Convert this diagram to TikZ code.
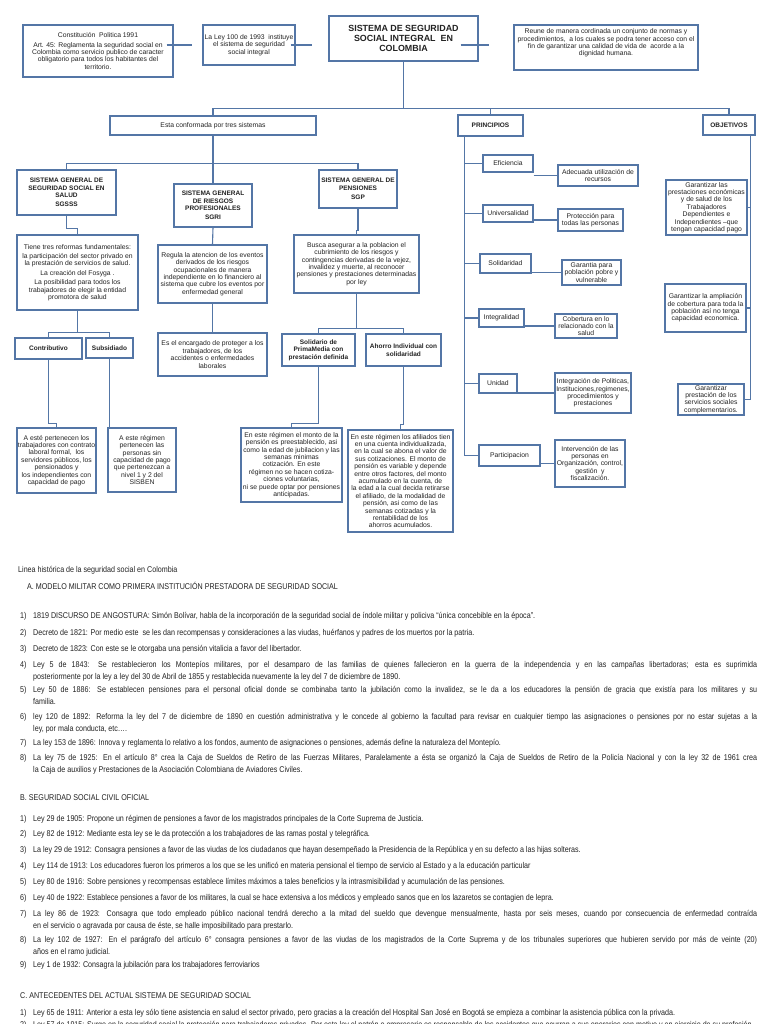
\documentclass[tikz,border=0pt]{standalone}
\usepackage{fontspec}
\setmainfont{Liberation Sans}
\newfontfamily\nf[FakeStretch=0.85]{Liberation Sans}
\usetikzlibrary{shadows,calc}
\definecolor{bl}{RGB}{84,118,166}
\definecolor{tx}{RGB}{35,35,35}
\tikzset{
 boxst/.style={draw=bl, line width=1.3pt, fill=white,
   drop shadow={shadow xshift=1.2pt, shadow yshift=-1.2pt, fill=black!40, opacity=0.6},
   align=center, inner sep=1pt, text=tx, font=\fontsize{6.8}{7.4}\selectfont},
 bfb/.style={font=\fontsize{6.5}{7.4}\selectfont\bfseries},
 conn/.style={draw=bl, line width=1.1pt},
 ln/.style={anchor=north west, inner sep=0pt, text=tx, font=\nf\fontsize{8.4}{11.5}\selectfont},
 li/.style={ln, text width=724pt, align=justify},
}
\newcommand\bx[7][]{%
 \pgfmathsetmacro\bw{#5-#3}\pgfmathsetmacro\bh{#6-#4}%
 \pgfmathsetmacro\bcx{(#3+#5)/2}\pgfmathsetmacro\bcy{(#4+#6)/2}%
 \node[boxst,minimum width=\bw pt,minimum height=\bh pt,#1] (#2) at (\bcx,\bcy) {#7};}
\newcommand\itm[4]{\node[ln] (#1n) at (20,#2) {#3}; \node[li] (#1) at (33,#2) {#4};}
\begin{document}
\begin{tikzpicture}[x=1pt,y=-1pt]
\useasboundingbox (0,0) rectangle (768,1024);
\fill[white] (0,0) rectangle (768,1024);
% top row
\bx{c1}{23}{25}{173}{77}{Constitución\ \ Politica 1991\\[2pt] Art. 45: Reglamenta la seguridad social en\\ Colombia como servicio publico de caracter\\ obligatorio para todos los habitantes del\\ territorio.}
\bx{c2}{203}{25}{295}{65}{La Ley 100 de 1993\ \ instituye\\ el sistema de seguridad\\ social integral}
\bx[font=\fontsize{8.9}{10}\selectfont\bfseries]{title}{329}{16}{478}{61}{SISTEMA DE SEGURIDAD\\ SOCIAL INTEGRAL\ \ EN\\ COLOMBIA}
\bx{c4}{514}{25}{698}{70}{Reune de manera cordinada un conjunto de normas y\\ procedimientos,\ \ a los cuales se podra tener acceso con el\\ fin de garantizar una calidad de vida de\ \ acorde a la\\ dignidad humana.\\[3pt]~}
% second row
\bx{conf}{110}{116}{316}{135}{Esta conformada por tres sistemas}
\bx[bfb]{princ}{458}{115}{523}{136}{PRINCIPIOS}
\bx[bfb]{obj}{703}{115}{755}{135}{OBJETIVOS}
% systems
\bx[bfb]{sgsss}{17}{170}{116}{215}{SISTEMA GENERAL DE\\ SEGURIDAD SOCIAL EN\\ SALUD\\[2pt] SGSSS}
\bx[bfb]{sgri}{174}{184}{252}{227}{SISTEMA GENERAL\\ DE RIESGOS\\ PROFESIONALES\\[2pt] SGRI}
\bx[bfb]{sgp}{319}{170}{397}{208}{SISTEMA GENERAL DE\\ PENSIONES\\[2pt] SGP}
% salud column
\bx{ref}{17}{235}{138}{310}{Tiene tres reformas fundamentales:\\[2pt] la participación del sector privado en\\ la prestación de servicios de salud.\\[2pt] La creación del Fosyga .\\[2pt] La posibilidad para todos los\\ trabajadores de elegir la entidad\\ promotora de salud}
\bx[bfb]{contrib}{15}{338}{82}{359}{Contributivo}
\bx[bfb]{subs}{86}{338}{133}{358}{Subsidiado}
\bx{contribd}{17}{428}{96}{493}{A esté pertenecen los\\ trabajadores con contrato\\ laboral formal,\ \ los\\ servidores públicos, los\\ pensionados y\\ los independientes con\\ capacidad de pago}
\bx{subsd}{108}{428}{176}{492}{A este régimen\\ pertenecen las\\ personas sin\\ capacidad de pago\\ que pertenezcan a\\ nivel 1 y 2 del\\ SISBEN}
% riesgos column
\bx{reg}{158}{245}{267}{303}{Regula la atencion de los eventos\\ derivados de los riesgos\\ ocupacionales de manera\\ independiente en lo financiero al\\ sistema que cubre los eventos por\\ enfermedad general}
\bx{enc}{158}{333}{267}{376}{Es el encargado de proteger a los\\ trabajadores, de los\\ accidentes o enfermedades\\ laborales}
% pensiones column
\bx{busca}{294}{235}{419}{293}{Busca asegurar a la poblacion el\\ cubrimiento de los riesgos y\\ contingencias derivadas de la vejez,\\ invalidez y muerte, al reconocer\\ pensiones y prestaciones determinadas\\ por ley}
\bx[bfb]{sol}{282}{334}{355}{366}{Solidario de\\ PrimaMedia con\\ prestación definida}
\bx[bfb]{aho}{366}{334}{441}{366}{Ahorro Individual con\\ solidaridad}
\bx{sold}{241}{428}{342}{502}{En este régimen el monto de la\\ pensión es preestablecido, asi\\ como la edad de jubilacion y las\\ semanas minimas\\ cotización. En este\\ régimen no se hacen cotiza-\\ ciones voluntarias,\\ ni se puede optar por pensiones\\ anticipadas.}
\bx{ahod}{348}{430}{453}{532}{En este régimen los afiliados tien\\ en una cuenta individualizada,\\ en la cual se abona el valor de\\ sus cotizaciones. El monto de\\ pensión es variable y depende\\ entre otros factores, del monto\\ acumulado en la cuenta, de\\ la edad a la cual decida retirarse\\ el afiliado, de la modalidad de\\ pensión, asi como de las\\ semanas cotizadas y la\\ rentabilidad de los\\ ahorros acumulados.}
% principios
\bx{efi}{483}{155}{533}{172}{Eficiencia}
\bx{efid}{558}{165}{638}{186}{Adecuada utilización de\\ recursos}
\bx{uni}{483}{205}{533}{222}{Universalidad}
\bx{unid}{558}{209}{623}{231}{Protección para\\ todas las personas}
\bx{soli}{480}{254}{531}{273}{Solidaridad}
\bx{solid}{562}{260}{621}{285}{Garantia para\\ población pobre y\\ vulnerable}
\bx{inte}{479}{309}{524}{327}{Integralidad}
\bx{inted}{555}{314}{617}{338}{Cobertura en lo\\ relacionado con la\\ salud}
\bx{unidad}{479}{374}{517}{393}{Unidad}
\bx{unidadd}{555}{373}{631}{413}{Integración de Politicas,\\ Instituciones,regimenes,\\ procedimientos y\\ prestaciones}
\bx{part}{479}{445}{540}{466}{Participacion}
\bx{partd}{555}{440}{625}{487}{Intervención de las\\ personas en\\ Organización, control,\\ gestión\ \ y\\ fiscalización.}
% objetivos
\bx{o1}{666}{180}{747}{235}{Garantizar las\\ prestaciones económicas\\ y de salud de los\\ Trabajadores\\ Dependientes e\\ Independientes –que\\ tengan capacidad pago}
\bx{o2}{665}{284}{746}{332}{Garantizar la ampliación\\ de cobertura para toda la\\ población así no tenga\\ capacidad economica.}
\bx{o3}{678}{384}{744}{415}{Garantizar\\ prestación de los\\ servicios sociales\\ complementarios.}
% connectors
\draw[conn] ($(c1.east |- c2.west)+(-7,0)$) -- ($(c2.west)+(-10,0)$);
\draw[conn] ($(c2.east)+(-5,0)$) -- ($(title.west |- c2.east)+(-16,0)$);
\draw[conn] ($(title.east |- c2.east)+(-18,0)$) -- ($(c4.west |- c2.east)+(-24,0)$);
\draw[conn] (title.south) -- ++(0,47) coordinate (hub1);
\draw[conn] (conf.north) |- (hub1) -| (obj.north);
\draw[conn] (princ.north) -- (princ.north |- hub1);
\draw[conn] (conf.south) -- (sgri.north);
\draw[conn] (sgsss.north) |- ($(conf.south)+(0,28)$) -| (sgp.north);
\draw[conn] (sgsss.south) -- ++(0,13) -| (ref.north);
\draw[conn] (ref.south) -- ++(0,22) coordinate (hub3);
\draw[conn] (contrib.north) |- (hub3) -| (subs.north);
\draw[conn] (contrib.south) -- ++(0,64) -| (contribd.north);
\draw[conn] (subs.south) -- (subs.south |- subsd.north);
\draw[conn] (sgri.south) -- (reg.north);
\draw[conn] (reg.south) -- (enc.north);
\draw[conn] (sgp.south) -- ++(0,22) -| (busca.north);
\draw[conn] (busca.south) -- ++(0,35) coordinate (hub4);
\draw[conn] (sol.north) |- (hub4) -| (aho.north);
\draw[conn] (sol.south) -- ++(0,57) -| (sold.north);
\draw[conn] (aho.south) -- ++(0,58) -| (ahod.north);
\coordinate (pv) at ($(princ.south west)+(7,0)$);
\draw[conn] (pv) |- (part.west);
\foreach \n in {efi,uni,soli,inte,unidad} {\draw[conn] (pv |- \n.west) -- (\n.west);}
\draw[conn] (efi.east |- efid.west) -- (efid.west);
\draw[conn] (uni.east |- unid.west) -- (unid.west);
\draw[conn] (soli.east |- solid.west) -- (solid.west);
\draw[conn] (inte.east |- inted.west) -- (inted.west);
\draw[conn] (unidad.east |- unidadd.west) -- (unidadd.west);
\draw[conn] (part.east |- partd.west) -- (partd.west);
\coordinate (ov) at ($(obj.south east)+(-5,0)$);
\draw[conn] (ov) |- (o3.east);
\draw[conn] (ov |- o1.east) -- (o1.east);
\draw[conn] (ov |- o2.east) -- (o2.east);
% bottom text
\node[ln] (hdr) at (18,566.5) {Linea histórica de la seguridad social en Colombia};
\node[ln] (secA) at (27,582.5) {A. MODELO MILITAR COMO PRIMERA INSTITUCIÓN PRESTADORA DE SEGURIDAD SOCIAL};
\itm{a1}{612.5}{1)}{1819 DISCURSO DE ANGOSTURA: Simón Bolívar, habla de la incorporación de la seguridad social de índole militar y policiva “única concebible en la época”.}
\itm{a2}{629.5}{2)}{Decreto de 1821: Por medio este\ \ se les dan recompensas y consideraciones a las viudas, huérfanos y padres de los muertos por la patria.}
\itm{a3}{645.5}{3)}{Decreto de 1823: Con este se le otorgaba una pensión vitalicia a favor del libertador.}
\itm{a4}{661.5}{4)}{Ley 5 de 1843: Se restablecieron los Montepíos militares, por el desamparo de las familias de quienes fallecieron en la guerra de la independencia y en las campañas libertadoras; esta es suprimida\linebreak posteriormente por la ley a ley del 30 de Abril de 1855 y restablecida nuevamente la ley del 7 de diciembre de 1890.}
\itm{a5}{686.5}{5)}{Ley 50 de 1886: Se establecen pensiones para el personal oficial donde se combinaba tanto la jubilación como la invalidez, se le da a los educadores la pensión de gracia que existía para los militares y su\linebreak familia.}
\itm{a6}{713.5}{6)}{ley 120 de 1892: Reforma la ley del 7 de diciembre de 1890 en cuestión administrativa y le concede al gobierno la facultad para revisar en cualquier tiempo las asignaciones o pensiones por no estar sujetas a la\linebreak ley, por mala conducta, etc….}
\itm{a7}{739.5}{7)}{La ley 153 de 1896: Innova y reglamenta lo relativo a los fondos, aumento de asignaciones o pensiones, además define la naturaleza del Montepío.}
\itm{a8}{754.5}{8)}{La ley 75 de 1925: En el artículo 8° crea la Caja de Sueldos de Retiro de las Fuerzas Militares, Paralelamente a ésta se organizó la Caja de Sueldos de Retiro de la Policía Nacional y con la ley 32 de 1961 crea\linebreak la Caja de auxilios y Prestaciones de la Asociación Colombiana de Aviadores Civiles.}
\node[ln] (secB) at (20,794.5) {B. SEGURIDAD SOCIAL CIVIL OFICIAL};
\itm{b1}{815.5}{1)}{Ley 29 de 1905: Propone un régimen de pensiones a favor de los magistrados principales de la Corte Suprema de Justicia.}
\itm{b2}{830.5}{2)}{Ley 82 de 1912: Mediante esta ley se le da protección a los trabajadores de las ramas postal y telegráfica.}
\itm{b3}{846.5}{3)}{La ley 29 de 1912: Consagra pensiones a favor de las viudas de los ciudadanos que hayan desempeñado la Presidencia de la República y en su defecto a las hijas solteras.}
\itm{b4}{862.5}{4)}{Ley 114 de 1913: Los educadores fueron los primeros a los que se les unificó en materia pensional el tiempo de servicio al Estado y a la educación particular}
\itm{b5}{878.5}{5)}{Ley 80 de 1916: Sobre pensiones y recompensas establece límites máximos a tales beneficios y la intrasmisibilidad y acumulación de las pensiones.}
\itm{b6}{894.5}{6)}{Ley 40 de 1922: Establece pensiones a favor de los militares, la cual se hace extensiva a los médicos y empleado sanos que en los lazaretos se contagien de lepra.}
\itm{b7}{910.5}{7)}{La ley 86 de 1923: Consagra que todo empleado público nacional tendrá derecho a la mitad del sueldo que devengue mensualmente, hasta por seis meses, cuando por consecuencia de enfermedad contraída\linebreak en el servicio o agravada por causa de éste, se halle imposibilitado para prestarlo.}
\itm{b8}{936.5}{8)}{La ley 102 de 1927: En el parágrafo del artículo 6° consagra pensiones a favor de las viudas de los magistrados de la Corte Suprema y de los tribunales superiores que hubieren servido por más de veinte (20)\linebreak años en el ramo judicial.}
\itm{b9}{961.5}{9)}{Ley 1 de 1932: Consagra la jubilación para los trabajadores ferroviarios}
\node[ln] (secC) at (20,992.5) {C. ANTECEDENTES DEL ACTUAL SISTEMA DE SEGURIDAD SOCIAL};
\itm{c1x}{1009.5}{1)}{Ley 65 de 1911: Anterior a esta ley sólo tiene asistencia en salud el sector privado, pero gracias a la creación del Hospital San José en Bogotá se empieza a combinar la asistencia pública con la privada.}
\itm{c2x}{1021.5}{2)}{Ley 57 de 1915: Surge en la seguridad social la protección para trabajadores privados. Por esta ley el patrón o empresario es responsable de los accidentes que ocurran a sus operarios con motivo y en ejercicio de su profesión.}
\end{tikzpicture}
\end{document}
